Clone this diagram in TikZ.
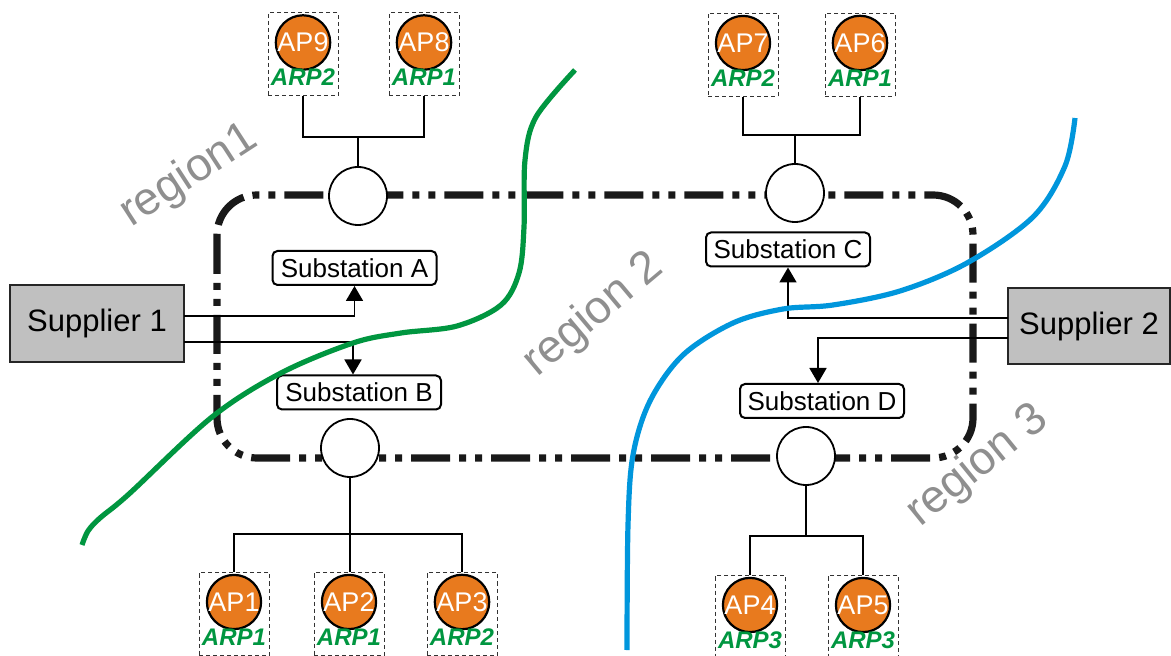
\documentclass[tikz,border=0pt]{standalone}
\usepackage{fontspec}
\setmainfont{Liberation Sans}
\usetikzlibrary{arrows.meta,calc}
\definecolor{apor}{HTML}{E87A1E}
\definecolor{arpg}{HTML}{009640}
\definecolor{curveg}{HTML}{009640}
\definecolor{curveb}{HTML}{0096DC}
\definecolor{regg}{HTML}{8F8F8F}
\definecolor{supg}{HTML}{C0C0C0}
\newcommand\apgroup[5]{%
  \node[apbox] (#1) at (#2,#3) {};
  \node[apcirc] (#1c) at ($(#1.north)+(0,30)$) {#4};
  \node[arptext] (#1t) at ($(#1.north)+(0,65)$) {#5};
}
\begin{document}
\begin{tikzpicture}[x=0.5pt,y=-0.5pt,
  supbox/.style={draw=black!85, line width=1pt, fill=supg, inner sep=0,
    font=\fontsize{15.5}{18}\selectfont},
  subbox/.style={draw, line width=1pt, rounded corners=2.5pt, minimum width=82pt,
    minimum height=17pt, inner sep=0, fill=white, font=\fontsize{13}{15}\selectfont},
  junc/.style={circle, draw, line width=0.9pt, fill=white, minimum size=29pt, inner sep=0},
  apbox/.style={draw=black!80, line width=0.5pt, dash pattern=on 2pt off 1.5pt,
    minimum width=35pt, minimum height=41.5pt, inner sep=0},
  apcirc/.style={circle, draw, line width=1.1pt, fill=apor, text=white, minimum size=26pt,
    inner sep=0, font=\fontsize{13.5}{15}\selectfont},
  arptext/.style={text=arpg, inner sep=0, font=\fontsize{12}{14}\selectfont\bfseries\itshape},
  conn/.style={line width=0.9pt},
  arr/.style={conn, -{Triangle[length=7.5pt,width=8.5pt]}},
  regtext/.style={text=regg, inner sep=0, font=\fontsize{23}{26}\selectfont},
  boundary/.style={line width=3.6pt, black!90,
    dash pattern=on 19.5pt off 4.5pt on 3.5pt off 4.5pt on 3.5pt off 4.5pt, rounded corners=20pt},
  curve/.style={line width=2.6pt}
]
\fill[white] (0,0) rectangle (1171,656);
\useasboundingbox (0,0) rectangle (1171,656);

% boundary
\draw[boundary] (217,195) rectangle (973,458);

% junctions
\node[junc] (jTL) at (358,196) {};
\node[junc] (jTR) at (795,193) {};
\node[junc] (jBL) at (350,448) {};
\node[junc] (jBR) at (806,456) {};

% substations
\node[subbox] (subA) at (354.5,268) {Substation A};
\node[subbox] (subB) at (359,392.5) {Substation B};
\node[subbox] (subC) at (788,249.5) {Substation C};
\node[subbox] (subD) at (822,401) {Substation D};

% suppliers
\node[supbox, minimum width=87pt, minimum height=38.5pt] (s1) at (97,323.5) {Supplier 1};
\node[supbox, minimum width=81pt, minimum height=38pt] (s2) at (1089,326) {Supplier 2};

% AP groups
\apgroup{ap9}{303}{54.5}{AP9}{ARP2}
\apgroup{ap8}{424}{54.5}{AP8}{ARP1}
\apgroup{ap7}{743}{55}{AP7}{ARP2}
\apgroup{ap6}{860}{55}{AP6}{ARP1}
\apgroup{ap1}{234}{614}{AP1}{ARP1}
\apgroup{ap2}{349}{614}{AP2}{ARP1}
\apgroup{ap3}{462}{614}{AP3}{ARP2}
\apgroup{ap4}{750}{617}{AP4}{ARP3}
\apgroup{ap5}{863}{617}{AP5}{ARP3}

% AP connectors
\coordinate (busTL) at (358,137);
\coordinate (busTR) at (795,135);
\coordinate (busBL) at (350,534);
\coordinate (busBR) at (806,536);
\draw[conn] (ap9.south) |- (busTL) -| (ap8.south);
\draw[conn] (busTL) -- (jTL);
\draw[conn] (ap7.south) |- (busTR) -| (ap6.south);
\draw[conn] (busTR) -- (jTR);
\draw[conn] (jBL) -- (busBL);
\draw[conn] (ap1.north) |- (busBL) -| (ap3.north);
\draw[conn] (busBL) -- (busBL |- ap2.north);
\draw[conn] (jBR) -- (busBR);
\draw[conn] (ap4.north) |- (busBR) -| (ap5.north);

% supply arrows
\coordinate (s1a) at (184,316);
\coordinate (s1b) at (184,342);
\coordinate (s2a) at (1008,318);
\coordinate (s2b) at (1008,338);
\draw[arr] (s1a) -| (subA.south);
\draw[arr] (s1b) -| ([xshift=-3pt]subB.north);
\draw[arr] (s2a) -| (subC.south);
\draw[arr] (s2b) -| ([xshift=-2pt]subD.north);

% region boundaries
\draw[curve, curveg] plot[smooth, tension=0.55] coordinates {
  (82,545) (88,531) (100,518) (129,494) (212,417) (281,373) (353,343) (401,333)
  (457,326) (501,305) (519,273) (524,227) (525,160) (536,117) (575,70)};
\draw[curve, curveb] plot[smooth, tension=0.55] coordinates {
  (627,650) (628,525) (633,455) (650,401) (683,355) (733,323) (783,309) (833,305)
  (900,291) (967,263) (1033,217) (1065,166) (1075,118)};

% region labels
\node[regtext, rotate=33] (r1) at (189,176) {region1};
\node[regtext, rotate=40] (r2) at (594,315) {region 2};
\node[regtext, rotate=39] (r3) at (978,466) {region 3};
\end{tikzpicture}
\end{document}
